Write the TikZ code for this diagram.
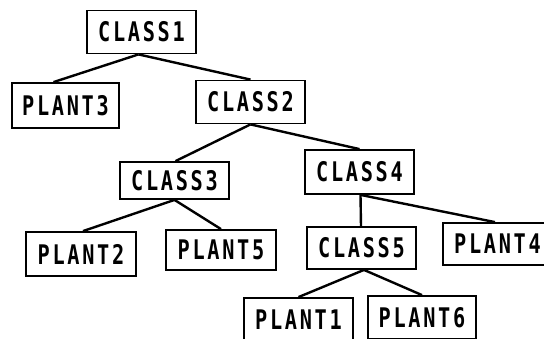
\documentclass[tikz,border=0pt]{standalone}
\usepackage{fontspec}
\newfontfamily\labelfont[LetterSpace=10,FakeStretch=0.75]{DejaVu Sans Mono}
\begin{document}
\begin{tikzpicture}[x=1pt,y=-1pt,
  box/.style={draw=black,line width=1.8pt,rectangle,inner sep=0pt,
    minimum width=109pt,minimum height=43pt,
    font=\labelfont\bfseries\fontsize{27}{27}\selectfont},
  edge/.style={line width=2.4pt}]
\useasboundingbox (0,0) rectangle (544,338);
\begin{scope}
\clip (0,0) rectangle (544,338);
% class (inner) nodes
\node[box] (c1) at (141.5,32)  {CLASS1};
\node[box] (c2) at (250.5,102) {CLASS2};
\node[box,minimum height=37pt] (c3) at (174.5,180.5) {CLASS3};
\node[box,minimum height=44pt] (c4) at (359.5,172)   {CLASS4};
\node[box,minimum height=42pt] (c5) at (361.5,248)   {CLASS5};
% plant (leaf) nodes
\node[box,minimum width=107pt,minimum height=45pt] (p3) at (65.5,105.5) {PLANT3};
\node[box,minimum width=110pt,minimum height=44pt] (p2) at (81,254)   {PLANT2};
\node[box,minimum width=110pt,minimum height=40pt] (p5) at (221,250)  {PLANT5};
\node[box,minimum height=42pt] (p4) at (497.5,244) {PLANT4};
\node[box,minimum height=43pt] (p1) at (298.5,319.5) {PLANT1};
\node[box,minimum width=108pt,minimum height=43pt] (p6) at (422,317.5) {PLANT6};
% connectors
\draw[edge] ([xshift=-3pt]c1.south) -- ([xshift=-12pt]p3.north);
\draw[edge] ([xshift=-3pt]c1.south) -- (c2.north);
\draw[edge] (c2.south) -- ([xshift=1pt]c3.north);
\draw[edge] (c2.south) -- (c4.north);
\draw[edge] (c3.south) -- ([xshift=2pt]p2.north);
\draw[edge] (c3.south) -- (p5.north);
\draw[edge] ([xshift=1pt]c4.south) -- ([xshift=-0.5pt]c5.north);
\draw[edge] ([xshift=1pt]c4.south) -- ([xshift=-2.5pt]p4.north);
\draw[edge] ([xshift=2.5pt]c5.south) -- (p1.north);
\draw[edge] ([xshift=2.5pt]c5.south) -- (p6.north);
\end{scope}
\end{tikzpicture}
\end{document}
